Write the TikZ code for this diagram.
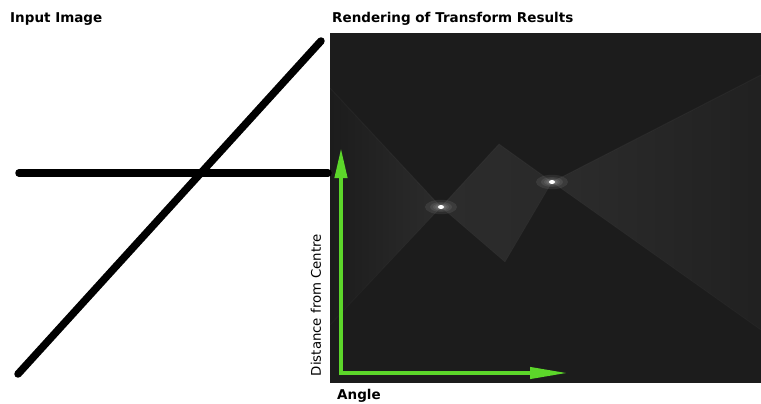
\documentclass[tikz,border=0pt]{standalone}
\usepackage{fontspec}
\setmainfont{DejaVu Sans}
\usetikzlibrary{arrows.meta}
\definecolor{bg}{HTML}{1C1C1C}
\definecolor{glow}{HTML}{2C2C2C}
\definecolor{axgreen}{HTML}{5CD62A}
\tikzset{
  title/.style={font=\bfseries\fontsize{13.5}{15}\selectfont, anchor=west, inner sep=0pt},
  stroke/.style={line width=7.5pt, line cap=round, black},
  axis/.style={line width=4pt, axgreen, -{Triangle[length=30pt,width=12pt]}},
}
\begin{document}
\begin{tikzpicture}[x=1pt,y=-1pt]
\useasboundingbox (0,0) rectangle (761,404);
% titles
\node[title] (tin) at (10,19) {Input Image};
\node[title] (tout) at (332,19) {Rendering of Transform Results};
% transform panel
\node[fill=bg, minimum width=431pt, minimum height=350pt, inner sep=0pt, anchor=north west] (panel) at (330,33) {};
% faint butterfly structure
\begin{scope}
  \clip (330,33) rectangle (761,383);
  % spot 1 left wedge
  \begin{scope}
    \clip (441,207) -- (330,88) -- (330,325) -- cycle;
    \shade[left color=bg, right color=glow] (330,80) rectangle (441,330);
  \end{scope}
  % middle diamond between spots
  \begin{scope}
    \clip (441,207) -- (499,144) -- (552,182) -- (505,262) -- cycle;
    \shade[left color=glow, right color=glow!85!bg] (441,140) rectangle (552,265);
  \end{scope}
  % spot 2 right wedge
  \begin{scope}
    \clip (552,182) -- (761,75) -- (761,330) -- cycle;
    \shade[left color=glow, right color=bg!70!glow] (552,70) rectangle (761,335);
  \end{scope}
  % faint lines
  \draw[white, opacity=0.03, line width=1pt] (330,88) -- (441,207) -- (499,144) -- (552,182) -- (761,75);
  \draw[white, opacity=0.02, line width=1pt] (330,325) -- (441,207) -- (505,262);
  \draw[white, opacity=0.02, line width=1pt] (505,262) -- (552,182) -- (761,330);
  % bright spots
  \foreach \p in {(441,207),(552,182)}{
    \foreach \r in {16,11,8,6,4.5}{
      \fill[white, opacity=0.08] \p ellipse ({\r pt} and {0.45*\r pt});
    }
    \fill[white] \p ellipse (3pt and 2pt);
  }
\end{scope}
% input image lines
\coordinate (d1) at (18,374);
\coordinate (d2) at (321,41);
\coordinate (h1) at (19,173);
\coordinate (h2) at (328,173);
\draw[stroke] (d1) -- (d2);
\draw[stroke] (h1) -- (h2);
% axes
\coordinate (o) at (341,373);
\coordinate (ytop) at (341,148);
\coordinate (xend) at (568,373);
\draw[axis] ([yshift=-2pt]o) -- (ytop);
\draw[axis, -{Triangle[length=38pt,width=11pt]}] ([xshift=-2pt]o) -- (xend);
% axis labels
\node[rotate=90, font=\fontsize{13.3}{15}\selectfont, inner sep=0pt] (ylab) at (316,305) {Distance from Centre};
\node[title] (xlab) at (337,396) {Angle};
\end{tikzpicture}
\end{document}
